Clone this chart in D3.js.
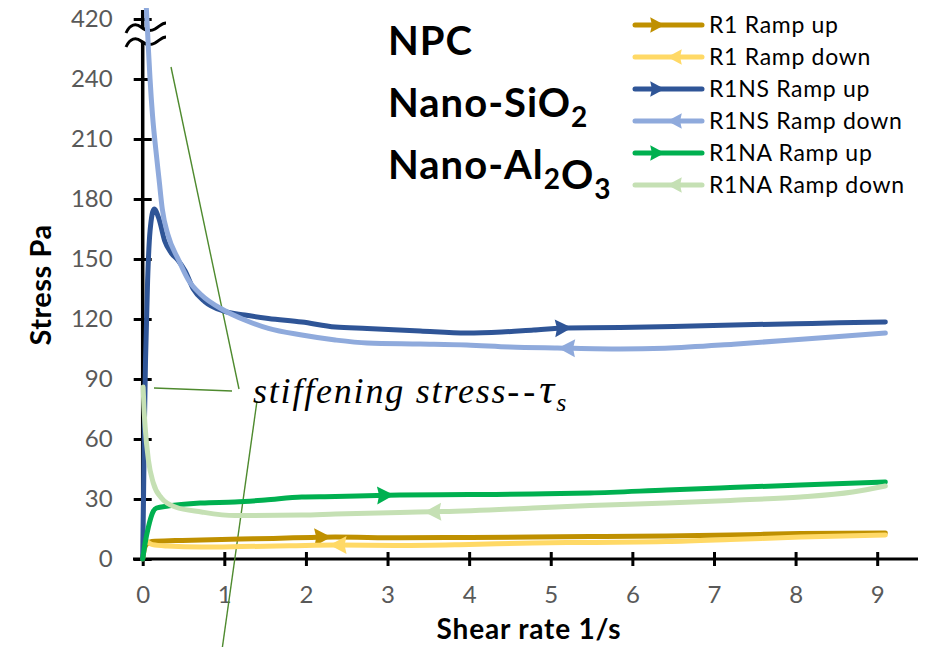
<!DOCTYPE html>
<html>
<head>
<meta charset="utf-8">
<script src="https://cdn.jsdelivr.net/npm/d3@7"></script>
<style>
  body { margin: 0; background: #fff; }
  svg { display: block; }
  text { font-family: Lato, "Open Sans", sans-serif; }
</style>
</head>
<body>
<svg id="chart" width="941" height="647"></svg>
<script>
// Shear-rate ramp tests: [shear rate 1/s, stress Pa]
const r1Up = [[0,0],[0.02,5],[0.05,7.5],[0.11,8.7],[0.4,9.2],[0.72,9.5],[1.2,10],[1.6,10.3],[2.07,10.8],[2.36,11],[3.15,10.6],[4,10.8],[4.78,11],[5.48,11.2],[6.42,11.5],[7.2,12],[8.06,12.7],[9.1,13]];
const r1Down = [[0.02,10],[0.06,8.5],[0.12,7.2],[0.3,6.5],[0.72,6],[1.2,6.2],[1.8,6.6],[2.36,7],[3.15,6.8],[4,7.3],[4.78,8],[5.48,8.3],[6.42,8.7],[7.2,9.7],[8.06,11],[9.1,12]];
const nsUp = [[0,0],[0.01,30],[0.02,65],[0.035,100],[0.06,139],[0.09,164],[0.14,175],[0.2,170],[0.27,159],[0.35,153],[0.43,149.5],[0.52,144],[0.62,135],[0.76,128.7],[0.99,124],[1.25,122],[1.54,120.3],[1.95,118.5],[2.36,116],[2.75,115.3],[3.4,114],[3.97,113],[4.4,113.5],[4.79,114.5],[5.2,115.5],[5.85,115.7],[6.5,116.2],[7.24,117],[8.2,117.8],[9.1,118.5]];
const nsDown = [[0.045,452],[0.06,380],[0.07,330],[0.09,240],[0.12,222],[0.16,205],[0.2,190],[0.24,175],[0.31,162],[0.44,149.5],[0.56,139.5],[0.72,132],[0.99,124.5],[1.25,119.5],[1.54,115.3],[1.95,112],[2.36,109.5],[2.75,108],[3.4,107.5],[3.97,107],[4.5,106],[5.08,105.5],[5.85,105],[6.4,105.4],[7.24,107.4],[8.2,110.3],[9.1,113]];
const naUp = [[0,0],[0.03,8],[0.07,16],[0.12,23],[0.17,25.5],[0.31,26.5],[0.72,28],[1.13,28.5],[1.5,29.5],[1.95,31],[2.36,31.2],[2.87,31.8],[3.15,32],[4,32.2],[4.78,32.5],[5.48,33],[6.42,34.5],[7.2,35.7],[8.06,37],[9.1,38.5]];
const naDown = [[0.005,86],[0.015,76],[0.03,66],[0.07,49.5],[0.13,38],[0.23,30.5],[0.4,26],[0.72,23.5],[1.13,21.7],[1.95,22],[2.36,22.5],[3.15,23.3],[3.68,23.7],[4.78,25.5],[5.48,26.8],[6.42,28],[7.2,29.3],[8.06,31],[8.7,33.5],[9.1,36.5]];

const seriesNames = ["R1 Ramp up","R1 Ramp down","R1NS Ramp up","R1NS Ramp down","R1NA Ramp up","R1NA Ramp down"];
const seriesData = [r1Up, r1Down, nsUp, nsDown, naUp, naDown];
const seriesColors = ["#BF9000","#FFD966","#2F5597","#8FAADC","#00B050","#C5E0B4"];
const seriesDirection = ["up","down","up","down","up","down"];
// shear rate where each direction arrow sits
const arrowAt = [2.2, 2.4, 5.15, 5.2, 2.97, 3.56];

const xTicks = [0,1,2,3,4,5,6,7,8,9];
const yTicks = [0,30,60,90,120,150,180,210,240,420];
const titleLines = ["NPC", "Nano-SiO2", "Nano-Al2O3"];

const svg = d3.select("#chart");

const x = d3.scaleLinear().domain([0, 9.5]).range([142.7, 918]);
// broken stress axis: 240 → 420 squeezed into the top band
const y = d3.scaleLinear().domain([0, 240, 420]).range([559, 79, 19]);
const yTop = 447;

svg.append("defs").append("clipPath").attr("id", "plotClip")
  .append("rect").attr("x", 0).attr("y", y(yTop) - 2).attr("width", 941).attr("height", 647);

// axes
const xAxis = d3.axisBottom(x).tickValues(xTicks).tickSize(7).tickPadding(20).tickFormat(d3.format("d"));
const gx = svg.append("g").attr("transform", `translate(0,${y(0)})`).call(xAxis);
gx.select(".domain").remove();
gx.selectAll(".tick line").attr("y1", -7).attr("y2", 7).attr("stroke", "#000").attr("stroke-width", 3);
gx.selectAll(".tick text").attr("fill", "#595959").style("font-size", "24px");
svg.append("line").attr("x1", 133).attr("x2", x(9.5)).attr("y1", y(0)).attr("y2", y(0))
  .attr("stroke", "#000").attr("stroke-width", 3);

const yAxis = d3.axisLeft(y).tickValues(yTicks).tickSize(9).tickPadding(21);
const gy = svg.append("g").attr("transform", `translate(${x(0)},0)`).call(yAxis);
gy.select(".domain").remove();
gy.selectAll(".tick line").attr("x1", -9).attr("x2", 9).attr("stroke", "#000").attr("stroke-width", 3);
gy.selectAll(".tick text").attr("fill", "#595959").style("font-size", "24px");
svg.append("line").attr("x1", x(0)).attr("x2", x(0)).attr("y1", y(0)).attr("y2", y(yTop))
  .attr("stroke", "#000").attr("stroke-width", 3.5);

// axis break mark
const wave = (y0) => `M126,${y0+6} C130,${y0-3} 136,${y0-4} 141,${y0} S150,${y0+5} 155,${y0+2} S162,${y0-4} 166,${y0-4}`;
const b1 = 27, b2 = 41;
svg.append("path")
  .attr("d", `M126,${b1+6} C130,${b1-3} 136,${b1-4} 141,${b1} S150,${b1+5} 155,${b1+2} S162,${b1-4} 166,${b1-4} L166,${b2-4} S162,${b2-4} 155,${b2+2} S146,${b2+4} 141,${b2} S130,${b2-3} 126,${b2+6} Z`)
  .attr("fill", "#fff");
[b1, b2].forEach(b => svg.append("path").attr("d", wave(b)).attr("fill", "none")
  .attr("stroke", "#000").attr("stroke-width", 3));

// axis titles
svg.append("text").attr("x", 529).attr("y", 639).attr("text-anchor", "middle")
  .style("font-size", "28px").style("font-weight", "bold").style("letter-spacing", "0.8px").text("Shear rate 1/s");
svg.append("text").attr("transform", "translate(51,285) rotate(-90)").attr("text-anchor", "middle")
  .style("font-size", "29px").style("font-weight", "bold").style("letter-spacing", "0.5px").text("Stress Pa");

// annotation leaders
const leaders = [[171,67,239,389],[154,388,232,391],[257,401,222,650]];
svg.append("g").selectAll("line").data(leaders).join("line")
  .attr("x1", d => d[0]).attr("y1", d => d[1]).attr("x2", d => d[2]).attr("y2", d => d[3])
  .attr("stroke", "#4E8A2E").attr("stroke-width", 1.4);

// curves
const line = d3.line().x(d => x(d[0])).y(d => y(d[1])).curve(d3.curveMonotoneX);
const arrowShape = "M9,0 L-8,-9 L-6,0 L-8,9 Z";
const plot = svg.append("g").attr("clip-path", "url(#plotClip)");
seriesData.forEach((data, i) => {
  const p = plot.append("path").attr("d", line(data)).attr("fill", "none")
    .attr("stroke", seriesColors[i]).attr("stroke-width", 5)
    .attr("stroke-linecap", "round").attr("stroke-linejoin", "round");
  // locate the arrow on the drawn curve
  const node = p.node(), total = node.getTotalLength();
  const px = x(arrowAt[i]);
  let lo = 0, hi = total;
  for (let k = 0; k < 40; k++) {
    const mid = (lo + hi) / 2;
    if (node.getPointAtLength(mid).x < px) lo = mid; else hi = mid;
  }
  const pt = node.getPointAtLength(lo);
  const a = node.getPointAtLength(Math.max(0, lo - 4)), b = node.getPointAtLength(Math.min(total, lo + 4));
  let ang = Math.atan2(b.y - a.y, b.x - a.x) * 180 / Math.PI;
  if (seriesDirection[i] === "down") ang += 180;
  plot.append("path").attr("d", arrowShape).attr("fill", seriesColors[i])
    .attr("transform", `translate(${pt.x},${pt.y}) rotate(${ang})`);
});

// legend
const legend = svg.append("g");
seriesNames.forEach((name, i) => {
  const ly = 25 + i * 32;
  legend.append("line").attr("x1", 635).attr("x2", 702).attr("y1", ly).attr("y2", ly)
    .attr("stroke", seriesColors[i]).attr("stroke-width", 5).attr("stroke-linecap", "round");
  const ax = seriesDirection[i] === "up" ? 657 : 675;
  legend.append("path").attr("d", arrowShape).attr("fill", seriesColors[i])
    .attr("transform", `translate(${ax},${ly}) rotate(${seriesDirection[i] === "up" ? 0 : 180}) scale(0.85)`);
  legend.append("text").attr("x", 709).attr("y", ly + 8).style("font-size", "23px")
    .style("letter-spacing", "0.7px").attr("fill", "#000").text(name);
});

// material labels with chemical subscripts
const titleG = svg.append("g").style("font-size", "40px").style("font-weight", "bold")
  .style("letter-spacing", "1px");
titleLines.forEach((t, i) => {
  const txt = titleG.append("text").attr("x", 388).attr("y", 55 + i * 62);
  t.split(/(\d)/).forEach(part => {
    if (!part) return;
    if (/^\d$/.test(part)) {
      txt.append("tspan").attr("dy", 10).style("font-size", "28px").text(part);
      txt.append("tspan").attr("dy", -10).text("");
    } else {
      txt.append("tspan").text(part);
    }
  });
});

// stiffening stress note
const note = svg.append("text").attr("x", 253).attr("y", 403)
  .style("font-family", "'Liberation Serif', 'Times New Roman', serif")
  .style("font-style", "italic").style("font-size", "36px").style("letter-spacing", "1.8px");
note.append("tspan").text("stiffening stress");
note.append("tspan").style("letter-spacing", "4px").text("--");
note.append("tspan").style("font-size", "42px").text("\u03C4");
note.append("tspan").attr("dy", 8).style("font-size", "26px").text("s");
</script>
</body>
</html>
